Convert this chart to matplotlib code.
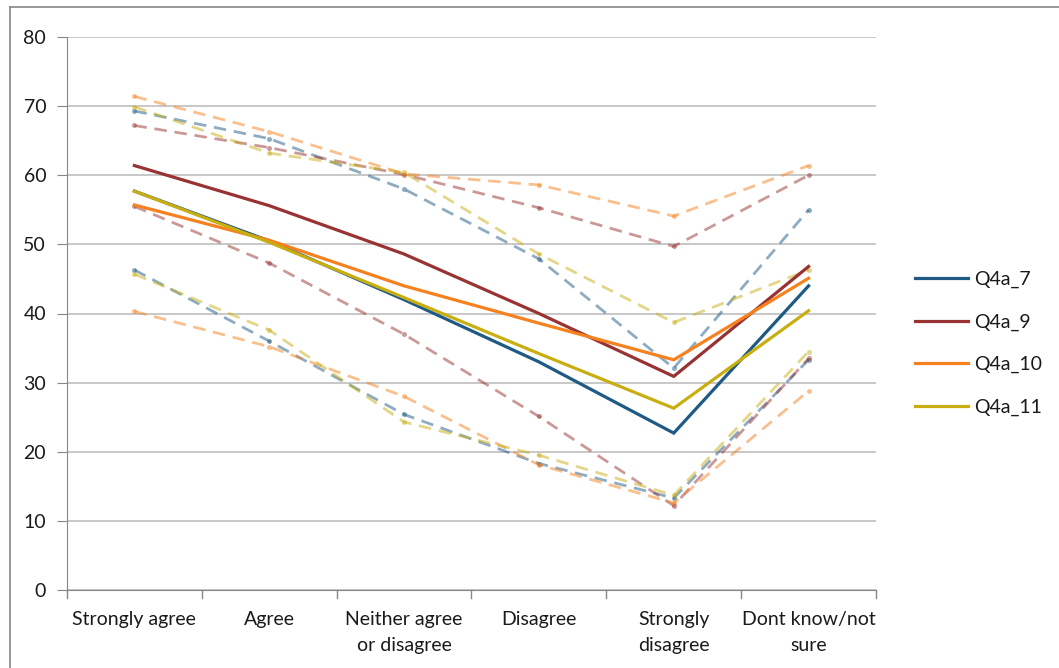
import matplotlib
matplotlib.use("Agg")
import matplotlib.pyplot as plt
from matplotlib.lines import Line2D

plt.rcParams['font.family'] = ['Lato', 'DejaVu Sans']

# categories on x axis
categories = ["Strongly agree", "Agree", "Neither agree\nor disagree",
              "Disagree", "Strongly\ndisagree", "Dont know/not\nsure"]

series_names = ["Q4a_7", "Q4a_9", "Q4a_10", "Q4a_11"]

# main values (solid lines)
q4a_7 = [57.7, 50.5, 42.0, 33.0, 22.7, 44.0]
q4a_9 = [61.4, 55.6, 48.6, 40.0, 30.9, 46.8]
q4a_10 = [55.7, 50.6, 44.0, 38.6, 33.3, 45.1]
q4a_11 = [57.7, 50.3, 42.3, 34.2, 26.3, 40.4]

# upper bounds (dashed)
q4a_7_hi = [69.3, 65.3, 58.0, 47.9, 32.1, 55.0]
q4a_9_hi = [67.2, 64.0, 60.1, 55.3, 49.7, 60.0]
q4a_10_hi = [71.4, 66.3, 60.2, 58.6, 54.1, 61.4]
q4a_11_hi = [69.9, 63.2, 60.4, 48.6, 38.7, 46.3]

# lower bounds (dashed)
q4a_7_lo = [46.3, 36.0, 25.4, 18.3, 13.3, 33.3]
q4a_9_lo = [55.5, 47.3, 37.0, 25.1, 12.2, 33.5]
q4a_10_lo = [40.3, 35.2, 28.0, 18.1, 12.6, 28.8]
q4a_11_lo = [45.7, 37.6, 24.3, 19.5, 13.7, 34.5]

colours = ["#1F5A85", "#993333", "#F5821F", "#C9AE12"]

mains = [q4a_7, q4a_9, q4a_10, q4a_11]
highs = [q4a_7_hi, q4a_9_hi, q4a_10_hi, q4a_11_hi]
lows = [q4a_7_lo, q4a_9_lo, q4a_10_lo, q4a_11_lo]

FS = 14

fig = plt.figure(figsize=(10.59, 6.68), dpi=100)
ax = fig.add_axes([67 / 1059, 78 / 668, (876 - 67) / 1059, (590 - 37) / 668])

x = list(range(len(categories)))

# dashed bounds first, so solid lines sit on top
for hi, lo, col in zip(highs, lows, colours):
    for vals in (hi, lo):
        ax.plot(x, vals, color=col, alpha=0.5, lw=2.0, ls=(0, (4.5, 2.8)),
                marker='o', ms=3.6, markeredgewidth=0, zorder=2)

for vals, col, name in zip(mains, colours, series_names):
    ax.plot(x, vals, color=col, lw=2.3, label=name, zorder=3,
            solid_joinstyle='miter')

ax.set_xlim(-0.5, len(categories) - 0.5)
ax.set_ylim(0, 80)
ax.set_yticks(range(0, 81, 10))
ax.set_xticks(x)
ax.set_xticklabels(categories, fontsize=FS, color="#1a1a1a", linespacing=1.65)
ax.tick_params(axis='x', length=0, pad=15)
ax.tick_params(axis='y', labelsize=FS, labelcolor="#1a1a1a", length=7,
               color="#868686", pad=8)

# category boundary tick marks
for b in range(len(categories) + 1):
    ax.plot([b - 0.5, b - 0.5], [0, -1.1], color="#868686", lw=1,
            clip_on=False, zorder=1)

ax.grid(axis='y', color="#BFBFBF", lw=1.2)
ax.set_axisbelow(True)
for s in ("top", "right"):
    ax.spines[s].set_visible(False)
ax.spines["left"].set_color("#868686")
ax.spines["bottom"].set_color("#868686")

handles = [Line2D([0], [0], color=c, lw=2.3) for c in colours]
fig.legend(handles, series_names, loc='upper left',
           bbox_to_anchor=(915 / 1059, 1 - 271 / 668), frameon=False,
           fontsize=FS, handlelength=2.75, handletextpad=0.3,
           labelspacing=1.3, borderpad=0, borderaxespad=0,
           labelcolor="#1a1a1a")

# chart area border (top and left edges visible)
fig.add_artist(Line2D([10 / 1059, 1], [1 - 7 / 668, 1 - 7 / 668],
                      color="#868686", lw=1.2))
fig.add_artist(Line2D([10 / 1059, 10 / 1059], [0, 1 - 7 / 668],
                      color="#868686", lw=1.2))

fig.savefig("out.png", dpi=100)
